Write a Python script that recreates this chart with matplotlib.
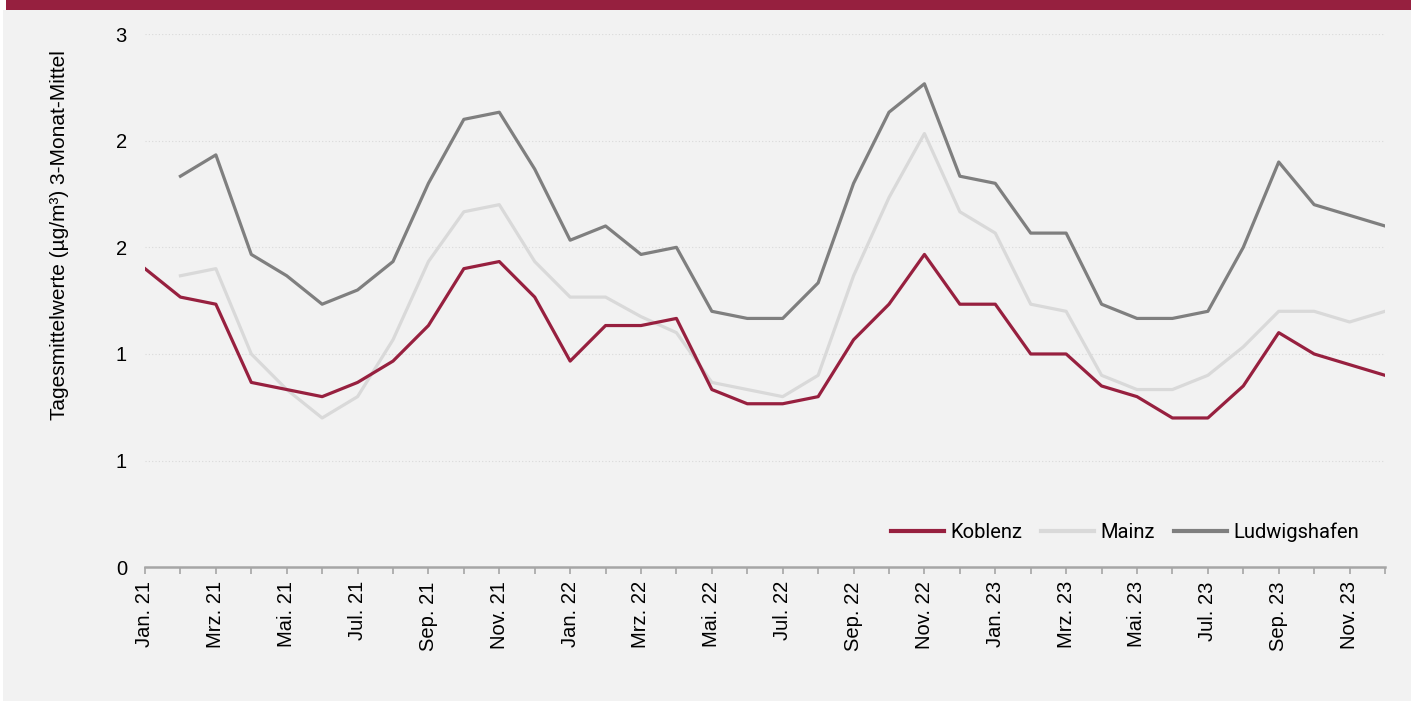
import numpy as np
import matplotlib
matplotlib.use("Agg")
import matplotlib.pyplot as plt
from matplotlib.patches import Rectangle
from matplotlib.ticker import FixedLocator, FuncFormatter

# Monate Jan. 21 .. Dez. 23
months = ["Jan.", "Feb.", "Mrz.", "Apr.", "Mai.", "Jun.", "Jul.", "Aug.", "Sep.", "Okt.", "Nov.", "Dez."]
years = ["21", "22", "23"]
labels = [m + " " + y for y in years for m in months]

koblenz = [1.68, 1.52, 1.48, 1.04, 1.00, 0.96, 1.04, 1.16, 1.36, 1.68, 1.72, 1.52,
           1.16, 1.36, 1.36, 1.40, 1.00, 0.92, 0.92, 0.96, 1.28, 1.48, 1.76, 1.48,
           1.48, 1.20, 1.20, 1.02, 0.96, 0.84, 0.84, 1.02, 1.32, 1.20, 1.14, 1.08]
mainz = [np.nan, 1.64, 1.68, 1.20, 1.00, 0.84, 0.96, 1.28, 1.72, 2.00, 2.04, 1.72,
         1.52, 1.52, 1.41, 1.32, 1.04, 1.00, 0.96, 1.08, 1.64, 2.08, 2.44, 2.00,
         1.88, 1.48, 1.44, 1.08, 1.00, 1.00, 1.08, 1.24, 1.44, 1.44, 1.38, 1.44]
ludwigshafen = [np.nan, 2.20, 2.32, 1.76, 1.64, 1.48, 1.56, 1.72, 2.16, 2.52, 2.56, 2.24,
                1.84, 1.92, 1.76, 1.80, 1.44, 1.40, 1.40, 1.60, 2.16, 2.56, 2.72, 2.20,
                2.16, 1.88, 1.88, 1.48, 1.40, 1.40, 1.44, 1.80, 2.28, 2.04, 1.98, 1.92]
yticks = [0, 0.6, 1.2, 1.8, 2.4, 3.0]

RED = "#97203f"
LIGHT = "#d9d9d9"
DARK = "#7f7f7f"
BG = "#f2f2f2"

plt.rcParams["font.family"] = ["Liberation Sans", "DejaVu Sans"]

fig = plt.figure(figsize=(14.11, 7.01), dpi=100)
fig.patch.set_facecolor("white")
# grauer Hintergrund + roter Balken oben
W, H = 1411, 701
fig.patches.append(Rectangle((3 / W, 0), 1, 1 - 10 / H, transform=fig.transFigure,
                             facecolor=BG, edgecolor="none", zorder=-10))
fig.patches.append(Rectangle((6 / W, 1 - 10 / H), 1, 10 / H, transform=fig.transFigure,
                             facecolor="#96203f", edgecolor="none", zorder=-10))

ax = fig.add_axes([145 / W, 1 - 567.3 / H, (1385 - 145) / W, (567.3 - 34) / H])
ax.set_facecolor("none")
ax.set_zorder(5)

x = np.arange(len(labels))
ax.plot(x, koblenz, color=RED, lw=2.3, label="Koblenz", zorder=4)
ax.plot(x, mainz, color=LIGHT, lw=2.3, label="Mainz", zorder=2)
ax.plot(x, ludwigshafen, color=DARK, lw=2.3, label="Ludwigshafen", zorder=3)

ax.set_xlim(0, len(labels) - 1)
ax.set_ylim(0, 3.0)
ax.yaxis.set_major_locator(FixedLocator(yticks))
ax.yaxis.set_major_formatter(FuncFormatter(lambda v, p: "%d" % round(v + 1e-9)))
ax.grid(axis="y", color="#d9d9d9", lw=0.8, ls=(0, (1, 2)))
ax.set_axisbelow(True)

ax.set_xticks(x)
ax.set_xticklabels([l if i % 2 == 0 else "" for i, l in enumerate(labels)],
                   rotation=90, fontsize=14.5)
ax.tick_params(axis="x", length=5, width=1.2, color="#a6a6a6", pad=5)
ax.tick_params(axis="y", length=0, labelsize=14.5, pad=13)

for s in ["top", "right", "left"]:
    ax.spines[s].set_visible(False)
ax.spines["bottom"].set_color("#a6a6a6")
ax.spines["bottom"].set_linewidth(1.8)

fig.text(60 / W, 1 - 235 / H, "Tagesmittelwerte (µg/m³) 3-Monat-Mittel",
         rotation=90, ha="center", va="center", fontsize=15)

leg = ax.legend(loc="center right", bbox_to_anchor=(0.9936, (567.3 - 532) / (567.3 - 34)),
                ncol=3, frameon=False, handlelength=2.64,
                handletextpad=0.3, columnspacing=0.95,
                prop={"family": ["Roboto", "DejaVu Sans"], "size": 14.5})
for line in leg.get_lines():
    line.set_linewidth(3)

fig.savefig("out.png", dpi=100, facecolor=fig.get_facecolor())
